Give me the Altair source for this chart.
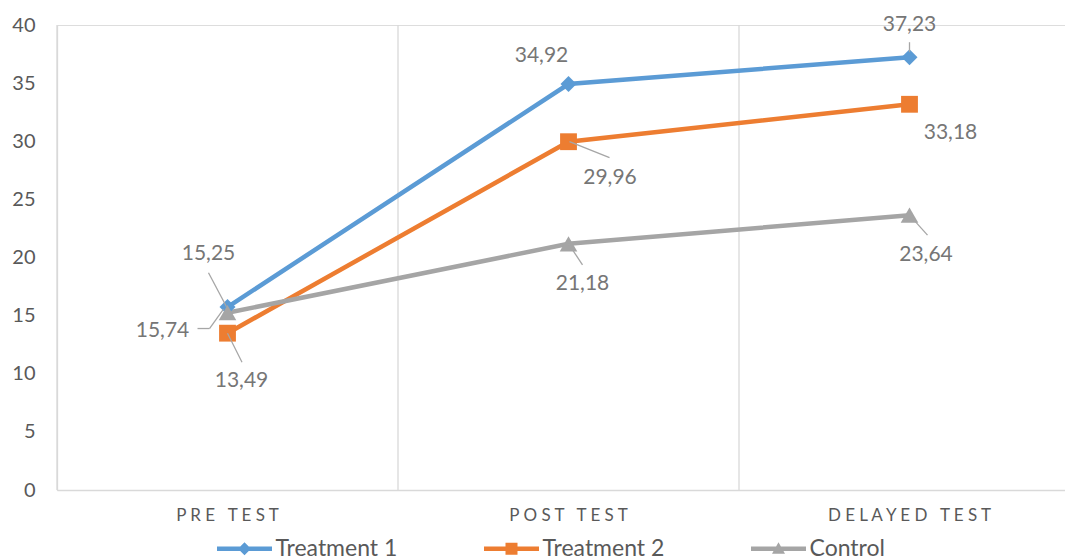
import altair as alt
import pandas as pd

# ---- data ----
stages = ["PRE TEST", "POST TEST", "DELAYED TEST"]
series_names = ["Treatment 1", "Treatment 2", "Control"]
treatment1 = [15.74, 34.92, 37.23]
treatment2 = [13.49, 29.96, 33.18]
control = [15.25, 21.18, 23.64]
y_ticks = [0, 5, 10, 15, 20, 25, 30, 35, 40]

# ---- styles ----
colors = ["#5B9BD5", "#ED7D31", "#A5A5A5"]
shapes = ["diamond", "square", "triangle-up"]
marker_sizes = [256, 310, 270]
FONT = "Lato"
AXIS_GRAY = "#D9D9D9"
TEXT_GRAY = "#595959"
LABEL_GRAY = "#767676"

rows = []
for name, vals in zip(series_names, [treatment1, treatment2, control]):
    for st, v in zip(stages, vals):
        rows.append({"series": name, "stage": st, "value": v,
                     "label": f"{v:.2f}".replace(".", ",")})
df = pd.DataFrame(rows)
stage_df = pd.DataFrame({"stage": stages})

# label placement (pixel offsets from the point)
label_offsets = {
    ("Treatment 1", "PRE TEST"): (-65, 23.5),
    ("Treatment 1", "POST TEST"): (-27, -28),
    ("Treatment 1", "DELAYED TEST"): (0, -32),
    ("Treatment 2", "PRE TEST"): (14, 48),
    ("Treatment 2", "POST TEST"): (41.5, 36.5),
    ("Treatment 2", "DELAYED TEST"): (41, 29),
    ("Control", "PRE TEST"): (-19, -59),
    ("Control", "POST TEST"): (14, 40),
    ("Control", "DELAYED TEST"): (16.5, 40),
}
# leader lines (pixel offsets from the point: x1, y1, x2, y2)
leaders = [
    ("Treatment 1", "PRE TEST", (-30, 21.5, -18, 21.5)),
    ("Treatment 1", "PRE TEST", (-18, 21.5, -4, 2)),
    ("Treatment 1", "DELAYED TEST", (0, -15, 0, -5)),
    ("Treatment 2", "PRE TEST", (0, 0, 14.5, 29)),
    ("Treatment 2", "POST TEST", (1, 0, 41, 16)),
    ("Control", "PRE TEST", (-19, -40, -1, -6)),
    ("Control", "POST TEST", (0, 0, 14, 21)),
    ("Control", "DELAYED TEST", (0, 0, 18, 20)),
]

legend_paths = [
    "M-27.5,-2.25H27.5V2.25H-27.5Z M0,-6.5L6.5,0L0,6.5L-6.5,0Z",
    "M-27.5,-2.25H27.5V2.25H-27.5Z M-6,-6H6V6H-6Z",
    "M-27.5,-2.25H27.5V2.25H-27.5Z M0,-6.5L6.5,5L-6.5,5Z",
]

x_scale = alt.Scale(domain=stages, paddingInner=0, paddingOuter=0)
y_scale = alt.Scale(domain=[0, 40], nice=False)
color_scale = alt.Scale(domain=series_names, range=colors)

x_axis = alt.Axis(title=None, ticks=False, grid=False, domainColor=AXIS_GRAY,
                  domainWidth=1.3, labelFontSize=17, labelColor=TEXT_GRAY,
                  labelFont=FONT, labelPadding=17, labelAngle=0,
                  labelExpr="join(split(datum.label, ''), '\u00a0')")
y_axis = alt.Axis(title=None, values=y_ticks, ticks=False, grid=False,
                  domainColor=AXIS_GRAY, domainWidth=1.3, labelFontSize=20,
                  labelColor=TEXT_GRAY, labelFont=FONT, labelPadding=22)

X = alt.X("stage:N", sort=stages, scale=x_scale, axis=x_axis)
Y = alt.Y("value:Q", scale=y_scale, axis=y_axis)

grid = alt.Chart(stage_df).mark_rule(color=AXIS_GRAY, strokeWidth=1.3).encode(
    x=alt.X("stage:N", sort=stages, scale=x_scale, bandPosition=0, axis=x_axis)
)

lines = alt.Chart(df).mark_line(strokeWidth=4.5).encode(
    x=X, y=Y,
    color=alt.Color("series:N", scale=color_scale, legend=None),
)

points = alt.Chart(df).mark_point(filled=True, opacity=1).encode(
    x=X, y=Y,
    color=alt.Color("series:N", scale=color_scale, legend=None),
    shape=alt.Shape("series:N", scale=alt.Scale(domain=series_names, range=shapes), legend=None),
    size=alt.Size("series:N", scale=alt.Scale(domain=series_names, range=marker_sizes), legend=None),
)

layers = [grid, lines, points]

for ser, st, (x1, y1, x2, y2) in leaders:
    layers.append(
        alt.Chart(df).transform_filter(
            (alt.datum.series == ser) & (alt.datum.stage == st)
        ).mark_rule(color="#A6A6A6", strokeWidth=1.3,
                    xOffset=x1, yOffset=y1, x2Offset=x2, y2Offset=y2).encode(
            x=alt.X("stage:N", sort=stages, scale=x_scale, bandPosition=0.5, axis=x_axis),
            x2=alt.X2("stage", bandPosition=0.5),
            y=Y, y2=alt.Y2("value"),
        )
    )

for (ser, st), (dx, dy) in label_offsets.items():
    layers.append(
        alt.Chart(df).transform_filter(
            (alt.datum.series == ser) & (alt.datum.stage == st)
        ).mark_text(dx=dx, dy=dy, fontSize=21, font=FONT, color=LABEL_GRAY,
                    align="center", baseline="middle").encode(
            x=X, y=Y, text="label:N"
        )
    )

legend_layer = alt.Chart(df).transform_filter("false").mark_point(filled=True).encode(
    x=X, y=Y,
    color=alt.Color("series:N", scale=alt.Scale(domain=series_names, range=colors),
                    legend=alt.Legend(title=None)),
    shape=alt.Shape("series:N", scale=alt.Scale(domain=series_names, range=legend_paths),
                    legend=alt.Legend(title=None)),
)
layers.append(legend_layer)

chart = alt.layer(*layers).resolve_scale(
    color="independent", shape="independent"
).properties(
    width=1023, height=465,
    padding={"left": 49, "top": 17, "right": -15, "bottom": 70},
    autosize=alt.AutoSizeParams(type="none"),
).configure_view(stroke=None).configure(font=FONT).configure_legend(
    orient="none", legendX=176, legendY=512, direction="horizontal",
    symbolSize=4, symbolStrokeWidth=0, symbolOpacity=1,
    labelFontSize=23, labelColor=TEXT_GRAY, labelFont=FONT,
    labelOffset=19.5, columnPadding=86, gridAlign="all", padding=0,
)

chart.save("out.html", embed_options={"renderer": "svg", "actions": False})
